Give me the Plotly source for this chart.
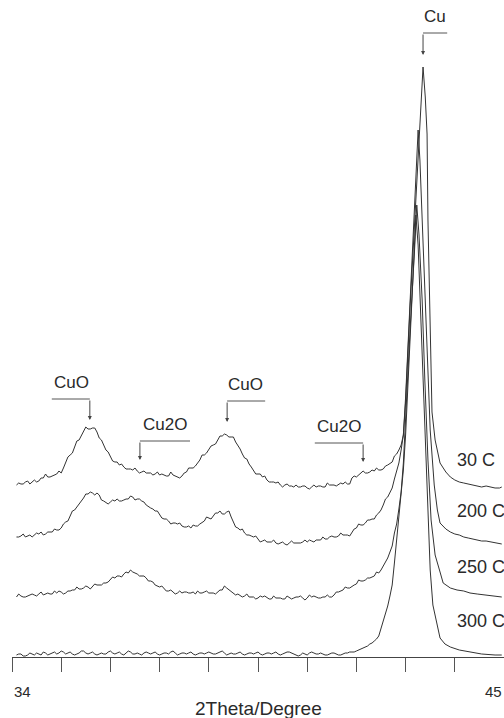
import plotly.graph_objects as go

# ---------------- data (2theta in degrees, intensity in a.u., traces stacked) -------------
X_BASE = [34.1, 34.2, 34.3, 34.4, 34.5, 34.6, 34.7, 34.8, 34.9, 35.0,
          35.1, 35.2, 35.3, 35.4, 35.5, 35.6, 35.7, 35.8, 35.9, 36.0,
          36.1, 36.2, 36.3, 36.4, 36.5, 36.6, 36.7, 36.8, 36.9, 37.0,
          37.1, 37.2, 37.3, 37.4, 37.5, 37.6, 37.7, 37.8, 37.9, 38.0,
          38.1, 38.2, 38.3, 38.4, 38.5, 38.6, 38.7, 38.8, 38.9, 39.0,
          39.1, 39.2, 39.3, 39.4, 39.5, 39.6, 39.7, 39.8, 39.9, 40.0,
          40.1, 40.2, 40.3, 40.4, 40.5, 40.6, 40.7, 40.8, 40.9, 41.0,
          41.1, 41.2, 41.3, 41.4, 41.5, 41.6, 41.7, 41.8, 41.9, 42.0,
          42.1, 42.2, 42.3, 42.4, 42.5, 42.6, 42.7, 42.75, 42.8]
X_MID = [34.15, 34.25, 34.35, 34.45, 34.55, 34.65, 34.75, 34.85, 34.95, 35.05,
         35.15, 35.25, 35.35, 35.45, 35.55, 35.65, 35.75, 35.85, 35.95, 36.05,
         36.15, 36.25, 36.35, 36.45, 36.55, 36.65, 36.75, 36.85, 36.95, 37.05,
         37.15, 37.25, 37.35, 37.45, 37.55, 37.65, 37.75, 37.85, 37.95, 38.05,
         38.15, 38.25, 38.35, 38.45, 38.55, 38.65, 38.75, 38.85, 38.95, 39.05,
         39.15, 39.25, 39.35, 39.45, 39.55, 39.65, 39.75, 39.85, 39.95, 40.05,
         40.15, 40.25, 40.35, 40.45, 40.55, 40.65, 40.75, 40.85, 40.95, 41.05,
         41.15, 41.25, 41.35, 41.45, 41.55, 41.65, 41.75, 41.85, 41.95, 42.05,
         42.15, 42.25, 42.35, 42.45, 42.55, 42.65]

# ---- 30 C ----
I30_BASE = [172, 173, 175, 173, 177, 176, 179, 180, 181, 183,
            184, 195, 202, 210, 217, 225, 228, 229, 225, 217,
            207, 201, 195, 192, 190, 188, 187, 186, 185, 184,
            184, 183, 182, 182, 181, 182, 180, 181, 185, 189,
            191, 197, 202, 208, 212, 217, 221, 222, 220, 215,
            208, 199, 193, 187, 183, 180, 177, 175, 174, 172,
            172, 171, 170, 170, 171, 169, 170, 170, 171, 170,
            172, 172, 173, 173, 173, 179, 180, 183, 184, 185,
            186, 187, 188, 192, 195, 203, 212, 222, 255]
I30_MID = [174, 173, 176, 175, 175, 179, 183, 180, 182, 186,
           189, 200, 204, 216, 221, 230, 228, 229, 219, 212,
           205, 196, 195, 193, 188, 188, 189, 184, 186, 184,
           182, 185, 183, 181, 185, 181, 179, 184, 189, 189,
           194, 202, 204, 211, 213, 221, 223, 220, 220, 212,
           203, 198, 190, 183, 183, 181, 175, 175, 175, 170,
           173, 171, 172, 170, 171, 168, 172, 171, 170, 174,
           172, 171, 174, 175, 173, 181, 182, 186, 184, 187,
           189, 187, 191, 194, 201, 207]
X30_PEAK = [42.9, 43.0, 43.05, 43.1, 43.15, 43.19, 43.24, 43.28, 43.3, 43.35,
            43.39, 43.46, 43.57, 43.7, 43.8, 43.9, 44.0, 44.1, 44.2, 44.3,
            44.4, 44.5, 44.6, 44.7, 44.8, 44.9, 44.95]
I30_PEAK = [350, 435, 480, 518, 555, 590, 560, 523, 437, 335,
            245, 217, 194, 185, 180, 177, 175, 174, 173, 172,
            171, 170, 171, 170, 169, 169, 170]

# ---- 200 C ----
I200_BASE = [120, 121, 120, 122, 122, 123, 122, 125, 125, 127,
             129, 135, 141, 147, 153, 159, 163, 164, 164, 157,
             154, 155, 156, 156, 157, 158, 160, 158, 156, 152,
             149, 146, 142, 138, 136, 134, 133, 131, 130, 129,
             131, 133, 136, 139, 141, 144, 143, 145, 140, 130,
             127, 124, 122, 120, 118, 116, 115, 115, 114, 114,
             113, 114, 114, 114, 115, 115, 116, 117, 117, 118,
             120, 120, 121, 122, 122, 124, 129, 132, 134, 137,
             138, 144, 152, 160, 169, 185, 207, 222, 260]
I200_MID = [120, 123, 121, 120, 124, 125, 123, 125, 128, 127,
            133, 136, 146, 150, 155, 163, 165, 162, 162, 156,
            153, 157, 158, 156, 158, 161, 157, 158, 155, 150,
            148, 146, 139, 138, 133, 134, 134, 130, 131, 132,
            131, 135, 140, 138, 144, 146, 143, 146, 134, 129,
            128, 122, 121, 121, 115, 117, 115, 117, 113, 115,
            112, 116, 114, 114, 117, 117, 115, 117, 120, 118,
            121, 120, 124, 122, 121, 128, 133, 132, 137, 138,
            142, 147, 158, 165, 178, 194]
X200_PEAK = [42.9, 43.0, 43.08, 43.12, 43.19, 43.26, 43.35, 43.44, 43.51, 43.57,
             43.7, 43.8, 43.9, 44.0, 44.1, 44.2, 44.3, 44.4, 44.5, 44.6,
             44.7, 44.8, 44.9, 44.95]
I200_PEAK = [360, 455, 527, 497, 417, 327, 227, 172, 147, 134,
             128, 125, 123, 122, 120, 119, 118, 117, 116, 116,
             115, 114, 113, 113]

# ---- 250 C ----
I250_BASE = [60, 61, 60, 62, 62, 63, 62, 64, 63, 64,
             65, 64, 66, 67, 68, 69, 70, 70, 72, 72,
             74, 77, 79, 81, 83, 84, 85, 83, 81, 79,
             76, 72, 70, 68, 66, 65, 64, 64, 65, 64,
             63, 64, 65, 64, 64, 65, 67, 69, 66, 62,
             61, 61, 60, 60, 59, 60, 59, 58, 59, 59,
             58, 59, 59, 60, 59, 59, 60, 60, 59, 60,
             60, 62, 65, 67, 69, 71, 73, 76, 77, 79,
             81, 84, 91, 99, 111, 133, 165, 194, 242]
I250_MID = [63, 60, 61, 63, 61, 65, 63, 63, 66, 66,
            63, 66, 67, 70, 68, 71, 68, 73, 72, 74,
            75, 80, 81, 80, 85, 87, 84, 81, 81, 76,
            75, 71, 71, 66, 67, 63, 66, 65, 64, 65,
            66, 64, 66, 64, 63, 67, 71, 67, 64, 63,
            60, 63, 60, 58, 61, 61, 58, 61, 59, 58,
            61, 58, 60, 61, 57, 62, 61, 59, 60, 62,
            60, 65, 66, 70, 69, 72, 77, 76, 79, 80,
            85, 87, 96, 105, 124, 148]
X250_PEAK = [42.9, 43.0, 43.05, 43.1, 43.17, 43.23, 43.3, 43.37, 43.46, 43.57,
             43.64, 43.8, 43.95, 44.1, 44.24, 44.4, 44.62, 44.8, 44.95]
I250_PEAK = [327, 407, 452, 422, 357, 277, 197, 137, 102, 85,
             74, 69, 67, 66, 64, 63, 62, 61, 60]

# ---- 300 C ----
I300_BASE = [2, 3, 1, 4, 2, 3, 5, 2, 4, 3,
             6, 3, 5, 2, 4, 6, 3, 5, 2, 4,
             3, 6, 3, 5, 2, 6, 3, 4, 2, 5,
             3, 5, 2, 4, 3, 6, 2, 4, 3, 5,
             2, 4, 3, 5, 3, 4, 6, 2, 4, 3,
             5, 2, 4, 3, 5, 2, 4, 3, 5, 2,
             4, 5, 3, 1, 4, 2, 5, 3, 4, 2,
             3, 4, 2, 3, 4, 5, 6, 8, 10, 13,
             16, 21, 36, 51, 72, 117, 160, 187, 222]
I300_MID = [3, 1, 2, 3, 4, 2, 4, 3, 5, 4,
            5, 4, 3, 3, 6, 4, 4, 3, 3, 3,
            5, 4, 4, 3, 4, 5, 3, 3, 4, 4,
            4, 3, 3, 4, 5, 4, 3, 4, 4, 3,
            3, 4, 4, 4, 3, 5, 4, 3, 3, 4,
            3, 3, 4, 4, 3, 3, 4, 4, 3, 3,
            5, 4, 2, 2, 3, 4, 4, 3, 3, 2,
            4, 3, 2, 4, 5, 5, 7, 9, 11, 14,
            18, 28, 43, 61, 94, 139]
X300_PEAK = [42.9, 43.0, 43.03, 43.08, 43.14, 43.21, 43.28, 43.35, 43.41, 43.5,
             43.57, 43.68, 43.8, 44.0, 44.24, 44.5, 44.8, 44.95]
I300_PEAK = [312, 407, 442, 412, 337, 247, 157, 87, 52, 32,
             19, 13, 10, 7, 5, 3, 2, 2]

SERIES_NAMES = ["30 C", "200 C", "250 C", "300 C"]
SERIES_PARTS = [
    (I30_BASE, I30_MID, X30_PEAK, I30_PEAK),
    (I200_BASE, I200_MID, X200_PEAK, I200_PEAK),
    (I250_BASE, I250_MID, X250_PEAK, I250_PEAK),
    (I300_BASE, I300_MID, X300_PEAK, I300_PEAK),
]
SERIES_LABEL_Y = [197, 146, 90, 36]

# phase markers: name, peak position (2theta), arrow tip / bracket level, text and bracket extent
PHASE_NAMES = ["Cu", "CuO", "Cu2O", "CuO", "Cu2O"]
PHASE_POS = [43.19, 35.74, 36.86, 38.81, 41.85]
PHASE_TIP = [602, 237, 197, 235, 195]
PHASE_TOP = [624, 258, 216, 256, 214]
PHASE_TEXT_X = [43.46, 35.32, 37.42, 39.23, 41.31]
PHASE_LINE_END = [43.73, 34.89, 37.98, 39.66, 40.77]

X_TICKS = [34.0, 35.1, 36.2, 37.3, 38.4, 39.5, 40.6, 41.7, 42.8, 43.9, 45.0]

FONT = "Liberation Sans, Arial, Helvetica, sans-serif"
INK = "#2a2a2a"

fig = go.Figure()
for name, (ib, im, xp, ip) in zip(SERIES_NAMES, SERIES_PARTS):
    pts = sorted(zip(X_BASE + X_MID + xp, ib + im + ip))
    fig.add_trace(go.Scatter(x=[p[0] for p in pts], y=[p[1] for p in pts], mode="lines",
                             name=name, line=dict(color="#333333", width=1), showlegend=False))

annotations = []
shapes = []
for name, ly in zip(SERIES_NAMES, SERIES_LABEL_Y):
    annotations.append(dict(x=43.9, y=ly, xref="x", yref="y", text=name, showarrow=False,
                            xanchor="left", yanchor="middle",
                            font=dict(family=FONT, size=18, color=INK)))

for name, pos, tip, top, tx, lend in zip(PHASE_NAMES, PHASE_POS, PHASE_TIP, PHASE_TOP,
                                         PHASE_TEXT_X, PHASE_LINE_END):
    annotations.append(dict(x=tx, y=top + 5, xref="x", yref="y", text=name, showarrow=False,
                            xanchor="center", yanchor="bottom",
                            font=dict(family=FONT, size=17, color=INK)))
    shapes.append(dict(type="line", xref="x", yref="y", x0=pos, x1=lend, y0=top, y1=top,
                       line=dict(color="#555555", width=1)))
    annotations.append(dict(x=pos, y=tip, ax=pos, ay=top, xref="x", yref="y",
                            axref="x", ayref="y", text="", showarrow=True,
                            arrowhead=2, arrowsize=0.8, arrowwidth=1, arrowcolor="#444444"))

annotations.append(dict(x=34.0, y=-0.052, xref="x", yref="paper", text="34", showarrow=False,
                        xanchor="left", yanchor="middle", font=dict(family=FONT, size=15, color=INK)))
annotations.append(dict(x=45.0, y=-0.052, xref="x", yref="paper", text="45", showarrow=False,
                        xanchor="right", yanchor="middle", font=dict(family=FONT, size=15, color=INK)))
annotations.append(dict(x=0.5, y=-0.078, xref="paper", yref="paper", text="2Theta/Degree",
                        showarrow=False, xanchor="center", yanchor="middle",
                        font=dict(family=FONT, size=19, color=INK)))

fig.update_layout(
    width=504, height=718,
    margin=dict(l=12, r=0, t=0, b=61),
    paper_bgcolor="white", plot_bgcolor="white",
    annotations=annotations, shapes=shapes,
    xaxis=dict(range=[34, 45], showline=True, linecolor="#444444", linewidth=1,
               ticks="outside", ticklen=14, tickwidth=1, tickcolor="#555555",
               tickvals=X_TICKS, showticklabels=False, showgrid=False, zeroline=False),
    yaxis=dict(range=[0, 657], visible=False, showgrid=False, zeroline=False),
)

fig.write_html("out.html")
